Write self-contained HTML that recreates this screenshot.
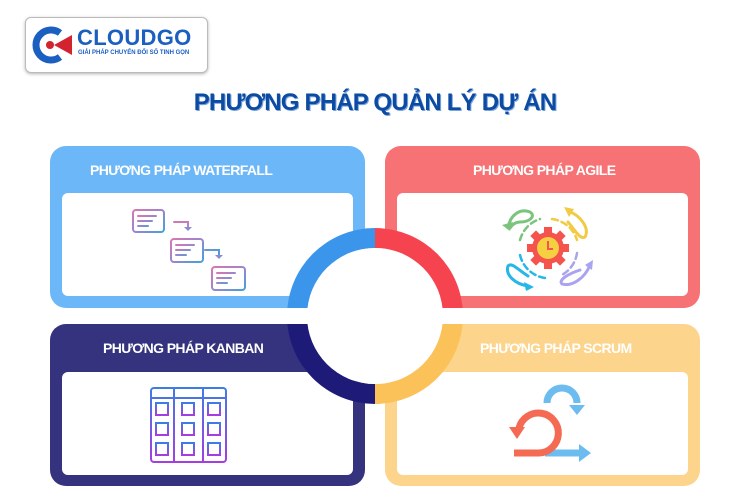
<!DOCTYPE html>
<html><head><meta charset="utf-8"><style>
body{margin:0;width:750px;height:500px;background:#fff;position:relative;overflow:hidden;font-family:"Liberation Sans","DejaVu Sans",sans-serif}
.card{position:absolute;width:315px;height:162px;border-radius:16px}
.inner{position:absolute;left:12px;top:47px;width:291px;height:103px;background:#fff;border-radius:6px}
.lbl{position:absolute;top:16px;color:#fff;font-weight:bold;font-size:14px;letter-spacing:-0.6px}
</style></head><body>
<div style="position:absolute;left:25px;top:17px;width:181px;height:54px;border:1px solid #bbb;border-radius:6px;box-shadow:0 1px 3px rgba(0,0,0,.3);background:#fff"></div>
<svg style="position:absolute;left:30px;top:25px" width="45" height="40" viewBox="0 0 45 40">
<path d="M30 8 A15 15 0 1 0 30 32" fill="none" stroke="#1b5fc1" stroke-width="7"/>
<path d="M42 10 L24 20 L42 30 Z" fill="#d2232f"/>
<circle cx="20" cy="20" r="4" fill="#d2232f"/>
</svg>
<div style="position:absolute;left:77px;top:25px;font-weight:bold;font-size:22px;color:#1b5fc1;letter-spacing:0.3px">CLOUDGO</div>
<div style="position:absolute;left:78px;top:50px;font-weight:bold;font-size:6px;color:#1b5fc1">GIẢI PHÁP CHUYỂN ĐỔI SỐ TINH GỌN</div>
<div style="position:absolute;left:0;width:750px;top:89px;text-align:center;font-weight:bold;font-size:24px;color:#0d4aa2;letter-spacing:-0.8px;text-shadow:1px 1px 0 #7aa6dd">PHƯƠNG PHÁP QUẢN LÝ DỰ ÁN</div>

<div class="card" style="left:50px;top:146px;background:#6cb7f8"><div class="lbl" style="left:40px">PHƯƠNG PHÁP WATERFALL</div><div class="inner"></div></div>
<div class="card" style="left:385px;top:146px;background:#f67274"><div class="lbl" style="left:88px">PHƯƠNG PHÁP AGILE</div><div class="inner"></div></div>
<div class="card" style="left:50px;top:324px;background:#35337e"><div class="lbl" style="left:53px">PHƯƠNG PHÁP KANBAN</div><div class="inner" style="top:48px"></div></div>
<div class="card" style="left:385px;top:324px;background:#fdd48c"><div class="lbl" style="left:95px">PHƯƠNG PHÁP SCRUM</div><div class="inner" style="top:48px"></div></div>

<svg style="position:absolute;left:0;top:0" width="750" height="500">
<defs><linearGradient id="wf" x1="0" y1="0" x2="1" y2="1"><stop offset="0" stop-color="#d976b0"/><stop offset=".5" stop-color="#9a86d0"/><stop offset="1" stop-color="#45a0d8"/></linearGradient>
<linearGradient id="kb" x1="0" y1="0" x2="0" y2="1"><stop offset="0" stop-color="#3e7ce6"/><stop offset="1" stop-color="#a43ee0"/></linearGradient></defs>
<!-- ring -->
<path d="M287 316 A88 88 0 0 1 375 228 L375 248 A68 68 0 0 0 307 316 Z" fill="#3b95ea"/>
<path d="M375 228 A88 88 0 0 1 463 316 L443 316 A68 68 0 0 0 375 248 Z" fill="#f5444f"/>
<path d="M287 316 A88 88 0 0 0 375 404 L375 384 A68 68 0 0 1 307 316 Z" fill="#1e1b78"/>
<path d="M375 404 A88 88 0 0 0 463 316 L443 316 A68 68 0 0 1 375 384 Z" fill="#fcc25a"/>
<circle cx="375" cy="316" r="68" fill="#fff"/>
<rect x="280" y="308" width="190" height="16" fill="#fff"/>
<!-- waterfall icons -->
<g fill="none" stroke="url(#wf)" stroke-width="2" stroke-linecap="round">
<rect x="133" y="210" width="31" height="22" rx="3"/><path d="M138 216h18M138 221h14M138 226h10"/>
<rect x="171" y="239" width="32" height="23" rx="3"/><path d="M176 245h18M176 250h14M176 255h10"/>
<rect x="212" y="267" width="33" height="23" rx="3"/><path d="M217 273h18M217 278h14M217 283h10"/>
<path d="M174 222h14v6M205 250h14v6"/>
</g>
<path d="M184 227l4 4 4-4z M215 255l4 4 4-4z" fill="#8a8cd2"/>
<!-- agile -->
<g fill="none" stroke-width="2.5" stroke-linecap="round" stroke-dasharray="6 4">
<path d="M520 240 A30 30 0 0 1 540 219" stroke="#7cc47e"/>
<path d="M552 219 A30 30 0 0 1 577 240" stroke="#f2cb45"/>
<path d="M577 253 A30 30 0 0 1 560 276" stroke="#a9a3f0"/>
<path d="M545 278 A30 30 0 0 1 520 255" stroke="#27b6e8"/>
</g>
<g fill="none" stroke-width="3" stroke-linecap="round">
<path d="M508 228 C510 215 520 208 530 212 C536 216 530 222 520 222 C515 222 512 225 510 228" stroke="#7cc47e"/>
<path d="M568 211 C580 215 590 228 585 237 C580 240 575 230 568 222" stroke="#f2cb45"/>
<path d="M528 286 C515 284 505 275 508 266 C512 262 518 270 528 276" stroke="#27b6e8"/>
<path d="M590 265 C585 278 572 287 562 284 C558 280 568 274 580 270" stroke="#a9a3f0"/>
</g>
<path d="M502 225l8 6 3-9z" fill="#7cc47e"/>
<path d="M564 207l10 2-5 8z" fill="#f2cb45"/>
<path d="M524 282l10 5-8 4z" fill="#27b6e8"/>
<path d="M593 260l-1 10-7-5z" fill="#a9a3f0"/>
<g fill="#f5544e"><rect x="544" y="227" width="8" height="42"/><rect x="527" y="244" width="42" height="8"/><rect x="544" y="227" width="8" height="42" transform="rotate(45 548 248)"/><rect x="544" y="227" width="8" height="42" transform="rotate(-45 548 248)"/></g>
<circle cx="548" cy="248" r="16" fill="#f5544e"/>
<circle cx="548" cy="248" r="11" fill="#f5d040"/>
<path d="M548 241v8h5" stroke="#f5544e" stroke-width="2" fill="none"/>
<!-- kanban -->
<g fill="none" stroke="url(#kb)" stroke-width="2">
<rect x="151" y="388" width="75" height="74" rx="3"/>
<path d="M151 398h75M174 388v74M203 388v74"/>
<rect x="156" y="403" width="12" height="12"/><rect x="182" y="403" width="12" height="12"/><rect x="208" y="403" width="12" height="12"/>
<rect x="156" y="423" width="12" height="12"/><rect x="182" y="423" width="12" height="12"/><rect x="208" y="423" width="12" height="12"/>
<rect x="156" y="443" width="12" height="12"/><rect x="182" y="443" width="12" height="12"/><rect x="208" y="443" width="12" height="12"/>
</g>
<!-- scrum -->
<g fill="none" stroke-width="7">
<path d="M547 403 A15 15 0 0 1 577 403" stroke="#6cbcf0"/>
<path d="M545 453h35" stroke="#6cbcf0"/>
<path d="M514 453h25 A20 20 0 1 0 519 428" stroke="#f56a53"/>
</g>
<path d="M569 405l8 10 8-10z" fill="#6cbcf0"/>
<path d="M579 444l12 9-12 9z" fill="#6cbcf0"/>
<path d="M509 427h16l-8 12z" fill="#f56a53"/>
</svg>
</body></html>
